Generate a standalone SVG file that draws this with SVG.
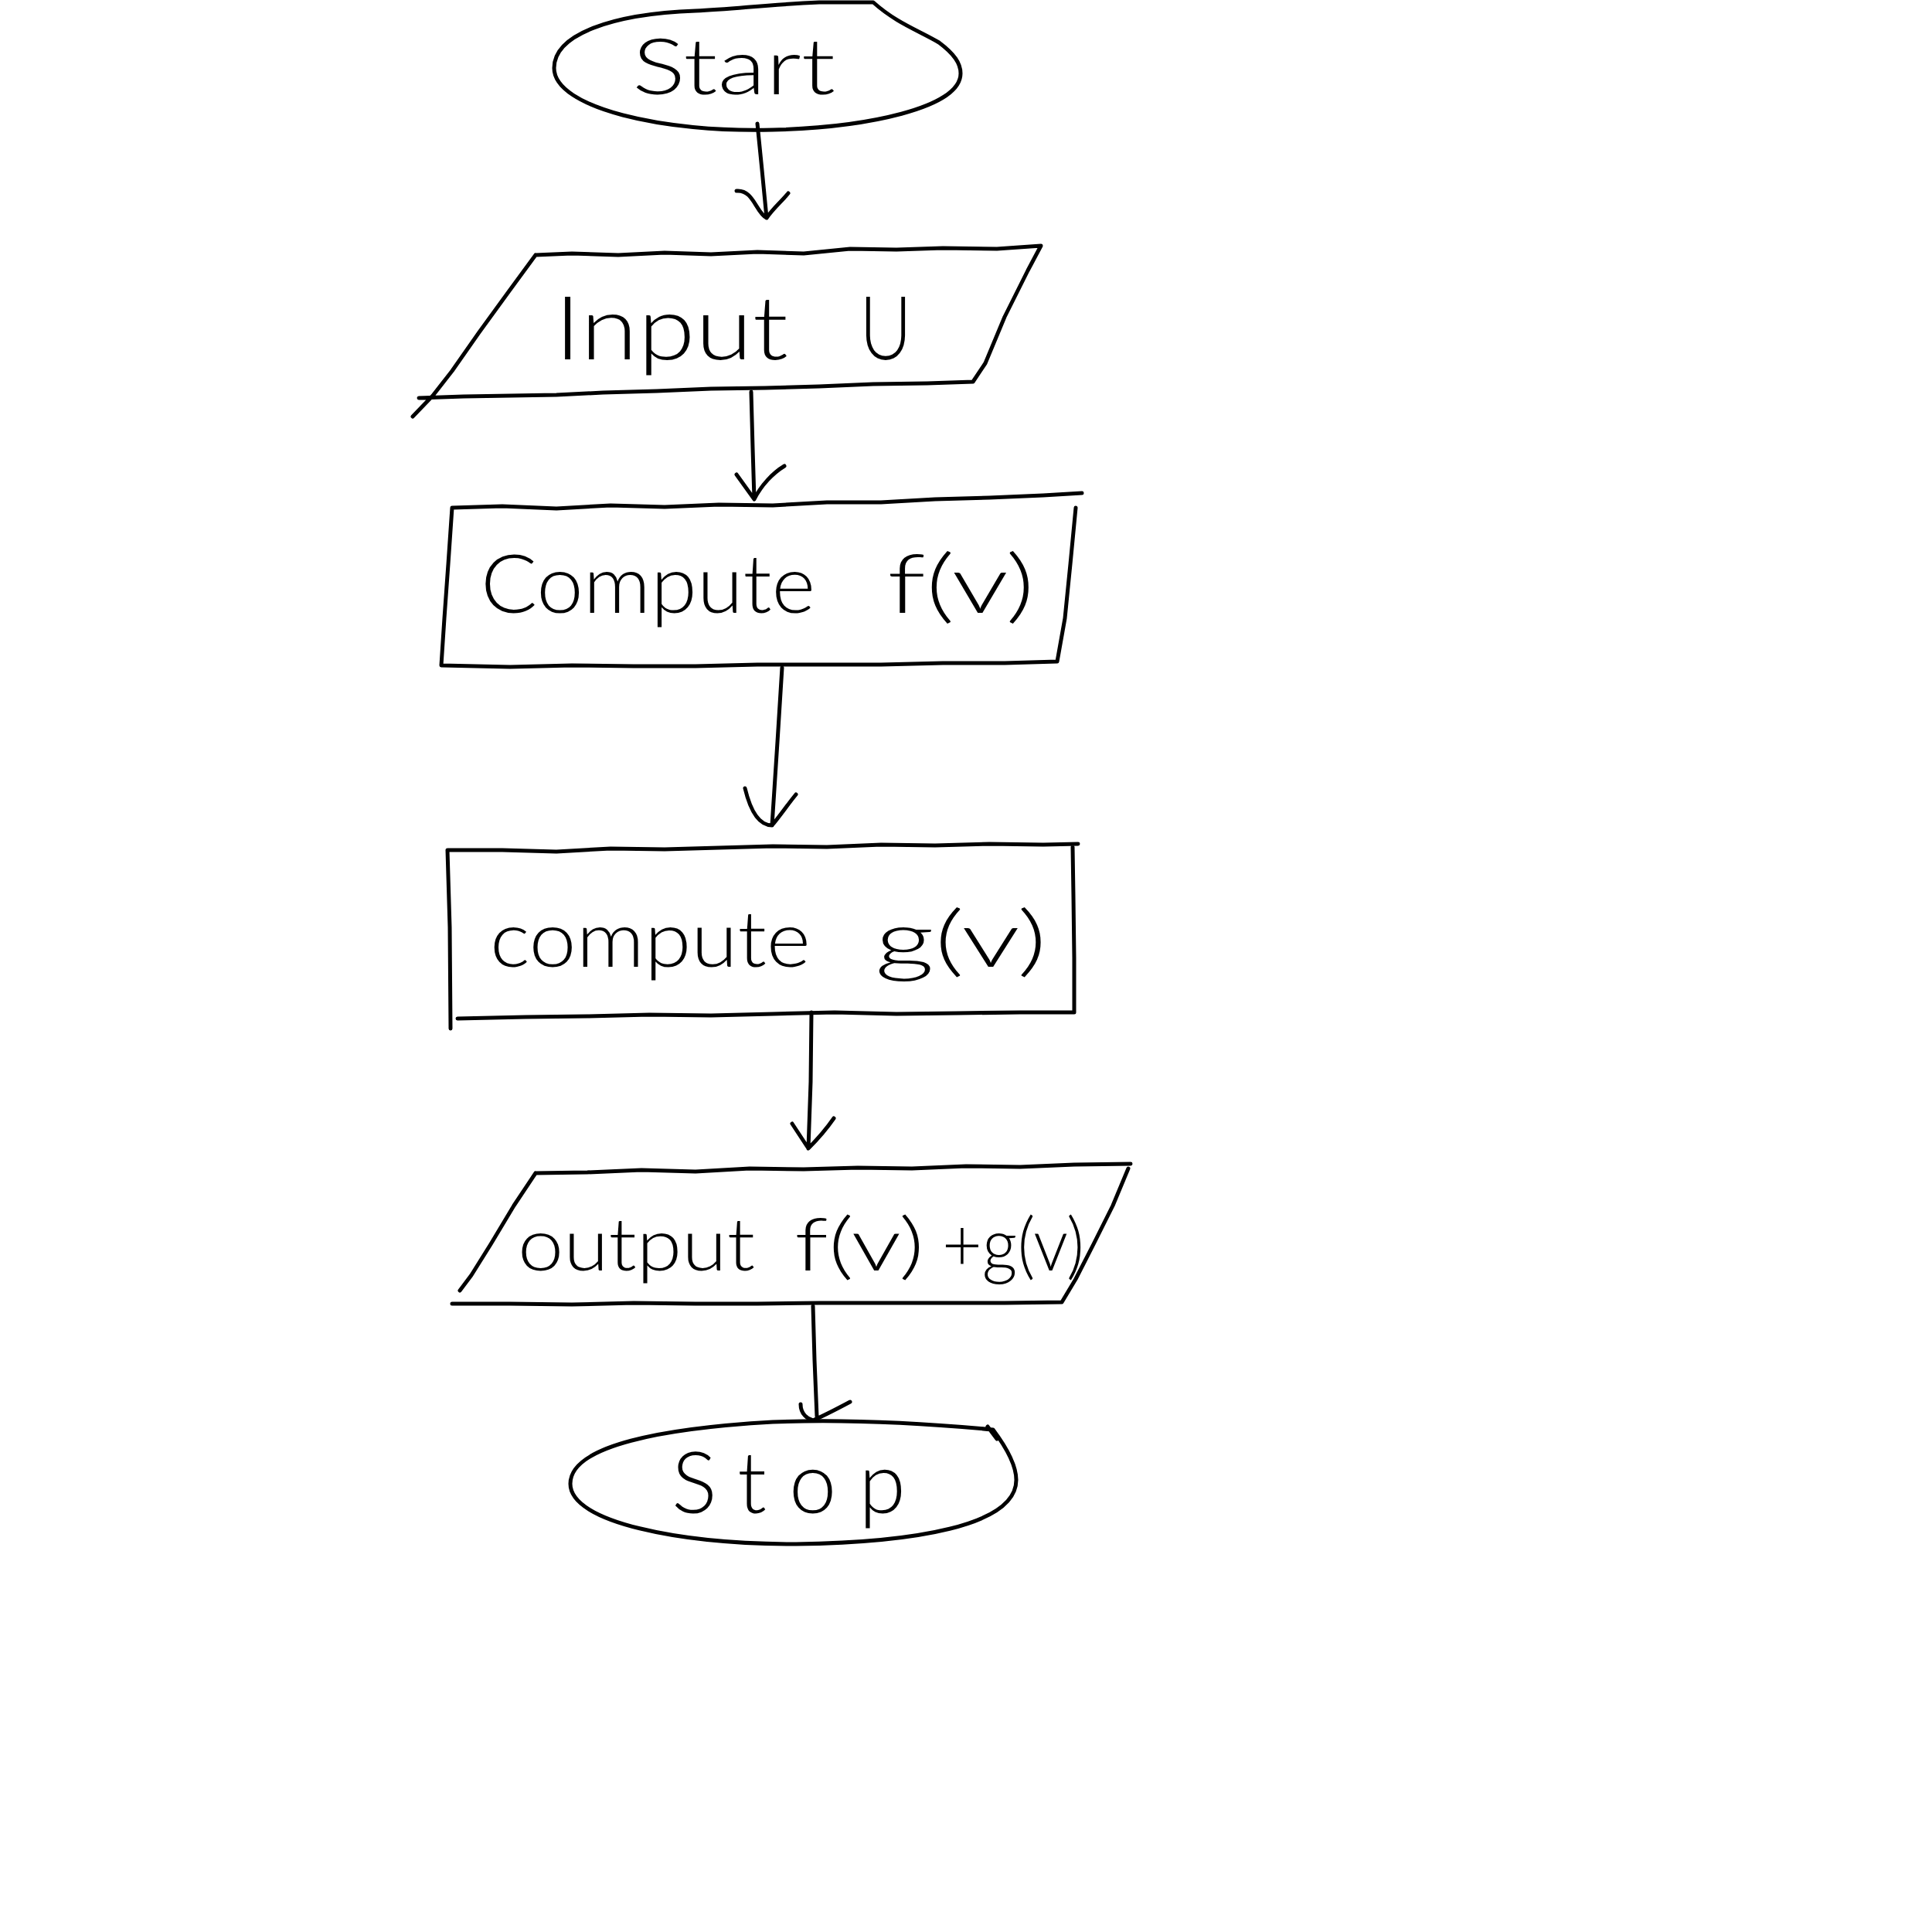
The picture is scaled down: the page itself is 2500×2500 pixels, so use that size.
<svg xmlns="http://www.w3.org/2000/svg" width="2500" height="2500" viewBox="0 0 2500 2500">
<style>
.s{fill:none;stroke:#000;stroke-width:5;stroke-linecap:round;stroke-linejoin:round}
.t{font-family:Lato,"Liberation Sans",sans-serif;font-weight:300;fill:#000}
</style>
<rect width="2500" height="2500" fill="#fff"/>
<g id="start">
<path class="s" d="M717,88 C717,45 790,18 900,14 C950,12 990,6 1060,3 L1130,3 C1160,30 1190,40 1215,55 C1235,70 1243,82 1243,95 C1243,140 1120,165 1000,168 C860,172 717,140 717,88 Z"/>
<text class="t" x="818" y="122" font-size="100" textLength="263" lengthAdjust="spacingAndGlyphs">Start</text>
</g>
<g id="input">
<path class="s" d="M693,330 L740,328 L800,330 L860,327 L920,329 L980,326 L1040,328 L1100,322 L1160,323 L1220,321 L1290,322 L1347,318 L1330,350 L1300,410 L1275,470 L1259,494 L1200,496 L1130,497 L1060,500 L990,502 L920,503 L850,506 L780,508 L720,511 L660,512 L600,513 L542,515 M693,330 L660,375 L620,430 L585,480 L560,512 L534,539"/>
<text class="t" x="717" y="465" font-size="115" textLength="303" lengthAdjust="spacingAndGlyphs">Input</text>
<text class="t" x="1112" y="465" font-size="115" textLength="68" lengthAdjust="spacingAndGlyphs">U</text>
</g>
<g id="computef">
<path class="s" d="M585,657 L650,655 L720,658 L790,654 L860,656 L930,653 L1000,654 L1070,650 L1140,650 L1210,646 L1280,644 L1350,641 L1400,638 M1392,657 L1385,730 L1378,800 L1368,856 L1300,858 L1220,858 L1140,860 L1060,860 L980,860 L900,862 L820,862 L740,861 L660,863 L571,861 L575,800 L580,730 L585,657"/>
<text class="t" x="622" y="793" font-size="105" textLength="433" lengthAdjust="spacingAndGlyphs">Compute</text>
<text class="t" x="1148" y="793" font-size="105" textLength="191" lengthAdjust="spacingAndGlyphs">f(v)</text>
</g>
<g id="computeg">
<path class="s" d="M579,1100 L650,1100 L720,1102 L790,1098 L860,1099 L930,1097 L1000,1095 L1070,1096 L1140,1093 L1210,1094 L1280,1092 L1350,1093 L1395,1092 M1388,1096 L1389,1160 L1390,1240 L1390,1310 L1320,1310 L1240,1311 L1160,1312 L1080,1310 L1000,1312 L920,1314 L840,1313 L760,1315 L680,1316 L592,1318 M579,1100 L582,1200 L583,1331"/>
<text class="t" x="634" y="1251" font-size="100" textLength="415" lengthAdjust="spacingAndGlyphs">compute</text>
<text class="t" x="1132" y="1251" font-size="100" textLength="223" lengthAdjust="spacingAndGlyphs">g(v)</text>
</g>
<g id="output">
<path class="s" d="M693,1518 L760,1517 L830,1514 L900,1516 L970,1512 L1040,1513 L1110,1511 L1180,1512 L1250,1509 L1320,1510 L1390,1507 L1463,1506 M1460,1512 L1440,1560 L1415,1610 L1392,1655 L1374,1685 L1300,1686 L1220,1686 L1140,1686 L1060,1686 L980,1687 L900,1687 L820,1686 L740,1688 L660,1687 L585,1687 M693,1518 L665,1560 L635,1610 L610,1650 L595,1670"/>
<text class="t" x="670" y="1644" font-size="95" textLength="307" lengthAdjust="spacingAndGlyphs">output</text>
<text class="t" x="1028" y="1644" font-size="95" textLength="168" lengthAdjust="spacingAndGlyphs">f(v)</text>
<text class="t" x="1219" y="1644" font-size="95" textLength="184" lengthAdjust="spacingAndGlyphs">+g(v)</text>
</g>
<g id="stop">
<path class="s" d="M738,1920 C738,1870 860,1848 1000,1840 C1100,1836 1200,1842 1285,1850 C1300,1870 1315,1895 1315,1915 C1315,1975 1180,1996 1030,1998 C880,1998 738,1970 738,1920 Z M1278,1846 L1290,1862"/>
<text class="t" x="869" y="1958" font-size="110" textLength="303" lengthAdjust="spacing">Stop</text>
</g>
<g id="connectors">
<path class="s" d="M980,160 L986,220 L992,282 M953,247 C975,245 978,275 992,282 C1000,270 1012,260 1020,250"/>
<path class="s" d="M972,507 L974,580 L976,646 M953,614 L976,646 C985,628 1000,612 1015,603"/>
<path class="s" d="M1012,864 L1006,960 L999,1068 M964,1020 C970,1045 980,1068 999,1068 C1010,1055 1020,1040 1030,1028"/>
<path class="s" d="M1050,1310 L1049,1400 L1046,1486 M1025,1454 L1046,1486 C1060,1472 1070,1460 1079,1447"/>
<path class="s" d="M1052,1690 L1054,1760 L1057,1833 M1036,1817 C1036,1830 1045,1836 1052,1838 C1070,1830 1085,1822 1100,1814"/>
</g>
</svg>
